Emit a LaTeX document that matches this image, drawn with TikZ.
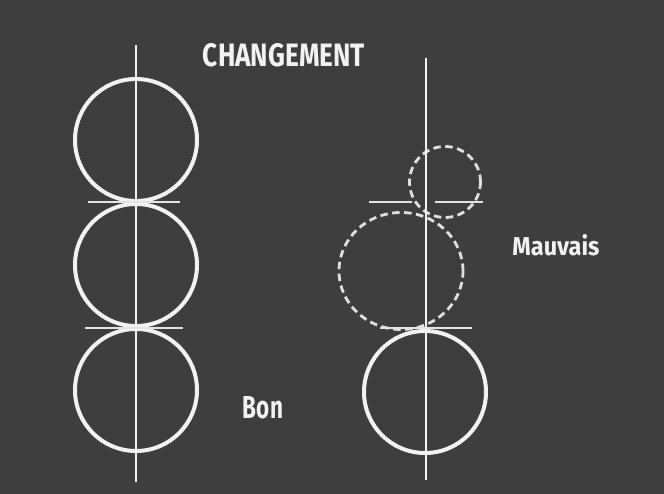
\documentclass[tikz,border=0pt]{standalone}
\usepackage{fontspec}
\setmainfont{Fira Sans}
\usepackage{graphicx}
\usetikzlibrary{shapes.geometric}
\definecolor{bg}{HTML}{3E3E3E}
\definecolor{chalk}{HTML}{F2F2F2}
\tikzset{
  ring/.style={circle, draw=chalk, line width=4pt, minimum size=122pt, inner sep=0pt},
  dring/.style={circle, draw=chalk!90!bg, line width=2.8pt, dash pattern=on 7.5pt off 4.5pt, inner sep=0pt},
  axis/.style={draw=chalk, line width=1.8pt},
  tick/.style={draw=chalk!92!bg, line width=1.5pt},
  label/.style={text=chalk, inner sep=0pt, font=\bfseries}
}
\begin{document}
\begin{tikzpicture}[x=1pt,y=-1pt]
\fill[bg] (0,0) rectangle (664,494);
\useasboundingbox (0,0) rectangle (664,494);
% left column
\node[ring] (a1) at (136,140) {};
\node[ring] (a2) at (136,265) {};
\node[ring] (a3) at (136,390) {};
\coordinate (lt) at (136,45);
\coordinate (lb) at (136,482);
\draw[axis] (lt) -- (lb);
\coordinate (t1a) at (88,202);
\coordinate (t1b) at (180,202);
\coordinate (t2a) at (85,328);
\coordinate (t2b) at (183,328);
\draw[tick] (t1a) -- (t1b);
\draw[tick] (t2a) -- (t2b);
% right column
\node[dring, minimum size=71pt] (b1) at (445,182) {};
\node[dring, ellipse, minimum width=124pt, minimum height=117pt] (b2) at (401,271) {};
\node[ring] (b3) at (425,392) {};
\coordinate (rt) at (426,58);
\coordinate (rb) at (426,480);
\draw[axis] (rt) -- (rb);
\coordinate (u1a) at (369,202);
\coordinate (u1b) at (412,202);
\coordinate (u1c) at (435,202);
\coordinate (u1d) at (483,202);
\draw[tick] (u1a) -- (u1b);
\draw[tick] (u1c) -- (u1d);
\coordinate (u2a) at (380,328);
\coordinate (u2b) at (472,328);
\draw[tick] (u2a) -- (u2b);
% labels
\node[label] (title) at (284,55) {\resizebox{162pt}{23pt}{CHANGEMENT}};
\node[label] (bon) at (263,408) {\resizebox{40pt}{22pt}{Bon}};
\node[label] (mauvais) at (556,245) {\resizebox{87pt}{21pt}{Mauvais}};
\end{tikzpicture}
\end{document}
